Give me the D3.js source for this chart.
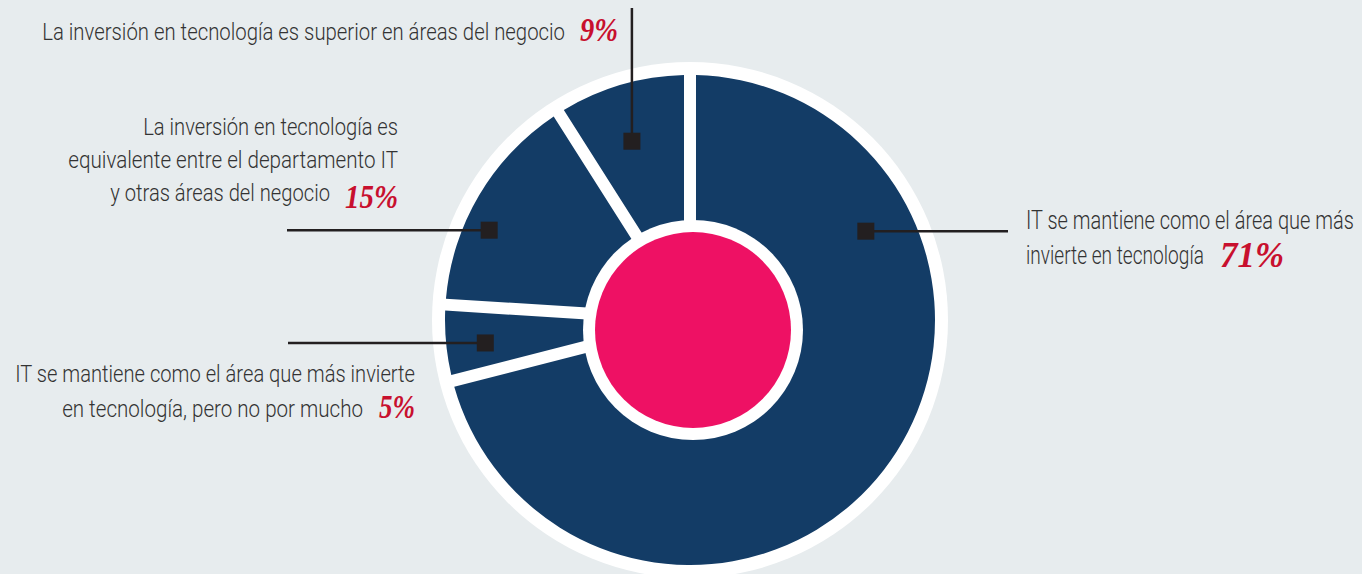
<!DOCTYPE html>
<html>
<head>
<meta charset="utf-8">
<script src="https://cdn.jsdelivr.net/npm/d3@7"></script>
<style>
  html, body { margin: 0; padding: 0; background: #e7ecee; }
  svg { display: block; }
</style>
</head>
<body>
<script>
// ---- data ----
const categories = [
  "IT se mantiene como el área que más invierte en tecnología",
  "IT se mantiene como el área que más invierte en tecnología, pero no por mucho",
  "La inversión en tecnología es equivalente entre el departamento IT y otras áreas del negocio",
  "La inversión en tecnología es superior en áreas del negocio"
];
const values = [71, 5, 15, 9];
const labelLines = [
  ["IT se mantiene como el área que más", "invierte en tecnología"],
  ["IT se mantiene como el área que más invierte", "en tecnología, pero no por mucho"],
  ["La inversión en tecnología es", "equivalente entre el departamento IT", "y otras áreas del negocio"],
  ["La inversión en tecnología es superior en áreas del negocio"]
];
const percentLabels = values.map(v => v + "%");

// ---- layout (positions / sizes) ----
const W = 1362, H = 574;
const cx = 690, cy = 320;
const outerR = 245, ringR = 258;
const hole = { cx: 693, cy: 330, rWhite: 110, rPink: 98 };
const gap = 12;
// marker polar positions (deg clockwise from top, radius) and leader ends
const markers = [
  { a: 63.2, r: 197, leader: { dir: "h", to: 1008 } },
  { a: 263.6, r: 206, leader: { dir: "h", to: 288 } },
  { a: 294.1, r: 220, leader: { dir: "h", to: 287 } },
  { a: 342.0, r: 188, leader: { dir: "v", to: 8 } }
];
// text blocks: per line [x, baseline, width, anchor]; percent [x, baseline, width, size]
const textLayout = [
  { lines: [[1026, 229, 328, "start"], [1026, 264, 178, "start"]], size: 25, pct: [1220, 267, 64, 36] },
  { lines: [[415, 382, 400, "end"], [363, 417, 301, "end"]], size: 24, pct: [379, 418, 36, 33] },
  { lines: [[398, 135, 255, "end"], [398, 168, 330, "end"], [330, 201, 220, "end"]], size: 24, pct: [345, 208, 53, 34] },
  { lines: [[565, 40, 523, "end"]], size: 24, pct: [580, 41, 38, 33] }
];

const colors = { bg: "#e7ecee", navy: "#133c66", pink: "#ee1164", white: "#ffffff",
                 marker: "#231f20", red: "#c8102e", text: "#333333" };

// ---- draw ----
const svg = d3.select("body").append("svg").attr("width", W).attr("height", H);
svg.append("rect").attr("width", W).attr("height", H).attr("fill", colors.bg);

const g = svg.append("g").attr("transform", `translate(${cx},${cy})`);
g.append("circle").attr("r", ringR).attr("fill", colors.white);

const pie = d3.pie().sort(null).value(d => d);
const arcs = pie(values);
const arc = d3.arc().innerRadius(60).outerRadius(outerR).padRadius(outerR).padAngle(gap / outerR);
g.selectAll("path.slice").data(arcs).join("path")
  .attr("class", "slice").attr("d", arc).attr("fill", colors.navy);

svg.append("circle").attr("cx", hole.cx).attr("cy", hole.cy).attr("r", hole.rWhite).attr("fill", colors.white);
svg.append("circle").attr("cx", hole.cx).attr("cy", hole.cy).attr("r", hole.rPink).attr("fill", colors.pink);

// markers and leaders
markers.forEach(m => {
  const [px, py] = d3.pointRadial(m.a * Math.PI / 180, m.r);
  const x = cx + px, y = cy + py;
  const line = svg.append("line").attr("stroke", colors.marker).attr("stroke-width", 2.5);
  if (m.leader.dir === "h") line.attr("x1", x).attr("y1", y).attr("x2", m.leader.to).attr("y2", y);
  else line.attr("x1", x).attr("y1", y).attr("x2", x).attr("y2", m.leader.to);
  svg.append("rect").attr("x", x - 8.5).attr("y", y - 8.5).attr("width", 17).attr("height", 17)
    .attr("fill", colors.marker);
});

// text helper: natural-size text scaled horizontally to a target width
function fitText(x, y, w, anchor, txt, attrs) {
  const grp = svg.append("g");
  const t = grp.append("text").attr("x", 0).attr("y", 0).attr("text-anchor", anchor).text(txt);
  Object.entries(attrs).forEach(([k, v]) => t.attr(k, v));
  const nat = t.node().getComputedTextLength() || w;
  const k = w / nat;
  grp.attr("transform", `translate(${x},${y}) scale(${k},1)`);
}

const sansFont = "Roboto, 'Liberation Sans Narrow', 'DejaVu Sans Condensed', sans-serif";
textLayout.forEach((t, i) => {
  labelLines[i].forEach((txt, j) => {
    const [x, y, w, anchor] = t.lines[j];
    fitText(x, y, w, anchor, txt, {
      "font-family": sansFont, "font-weight": 300, "font-size": t.size, "fill": colors.text
    });
  });
  const [px, py, pw, ps] = t.pct;
  fitText(px, py, pw, "start", percentLabels[i], {
    "font-family": "'Liberation Serif', 'Times New Roman', serif",
    "font-weight": "bold", "font-style": "italic", "font-size": ps, "fill": colors.red
  });
});
</script>
</body>
</html>
